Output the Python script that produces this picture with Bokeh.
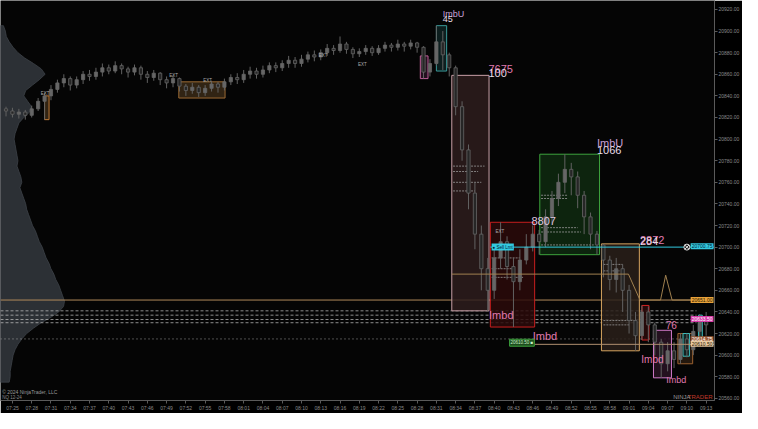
from bokeh.plotting import figure
from bokeh.models import Range1d, FixedTicker, Label, ColumnDataSource, NumeralTickFormatter
from bokeh.core.properties import value
from bokeh.embed import file_html
from bokeh.resources import INLINE

# ---------------- data ----------------
time_labels = ["07:25", "07:28", "07:31", "07:34", "07:37", "07:40", "07:43", "07:46", "07:49",
               "07:52", "07:55", "07:58", "08:01", "08:04", "08:07", "08:10", "08:13", "08:16",
               "08:19", "08:22", "08:25", "08:28", "08:31", "08:34", "08:37", "08:40", "08:43",
               "08:46", "08:49", "08:52", "08:55", "08:58", "09:01", "09:04", "09:07", "09:10",
               "09:13"]
time_ticks = [3 * i for i in range(len(time_labels))]          # minutes after 07:25
price_ticks = [20920, 20900, 20880, 20860, 20840, 20820, 20800, 20780, 20760, 20740,
               20720, 20700, 20680, 20660, 20640, 20620, 20600, 20580, 20560]

bar_time = list(range(-1, 109))
first_open = 20828
bar_close = [20826, 20823, 20825, 20822, 20828, 20835, 20840, 20846, 20852, 20856,
             20850, 20855, 20860, 20858, 20862, 20866, 20863, 20868, 20865, 20862,
             20866, 20860, 20857, 20861, 20855, 20852, 20856, 20849, 20845, 20848,
             20843, 20847, 20851, 20848, 20853, 20857, 20855, 20860, 20863, 20860,
             20864, 20868, 20866, 20870, 20873, 20870, 20874, 20878, 20876, 20880,
             20884, 20882, 20888, 20883, 20879, 20881, 20884, 20880, 20884, 20887,
             20885, 20888, 20886, 20889, 20885, 20862, 20870, 20890, 20878, 20866,
             20830, 20790, 20750, 20712, 20680, 20660, 20690, 20705, 20682, 20668,
             20688, 20700, 20712, 20705, 20728, 20745, 20760, 20772, 20765, 20748,
             20728, 20712, 20702, 20688, 20670, 20680, 20660, 20632, 20618, 20640,
             20628, 20612, 20592, 20604, 20596, 20615, 20605, 20622, 20634, 20628]
bar_high = [20830, 20829, 20828, 20827, 20831, 20838, 20843, 20850, 20855, 20860,
            20858, 20858, 20863, 20864, 20866, 20870, 20869, 20872, 20870, 20867,
            20869, 20868, 20863, 20864, 20862, 20858, 20859, 20857, 20851, 20852,
            20850, 20850, 20854, 20853, 20856, 20860, 20861, 20864, 20867, 20866,
            20868, 20871, 20871, 20873, 20877, 20876, 20878, 20881, 20882, 20883,
            20888, 20887, 20895, 20890, 20885, 20884, 20887, 20886, 20887, 20890,
            20889, 20892, 20890, 20892, 20890, 20886, 20874, 20905, 20900, 20880,
            20868, 20835, 20795, 20760, 20720, 20690, 20700, 20723, 20710, 20690,
            20698, 20712, 20720, 20716, 20735, 20752, 20768, 20786, 20778, 20770,
            20752, 20732, 20715, 20703, 20692, 20690, 20684, 20665, 20640, 20646,
            20645, 20630, 20615, 20612, 20612, 20620, 20620, 20628, 20638, 20640]
bar_low = [20821, 20820, 20819, 20818, 20820, 20826, 20818, 20836, 20843, 20848,
           20845, 20847, 20851, 20854, 20855, 20858, 20860, 20861, 20860, 20857,
           20859, 20855, 20852, 20854, 20850, 20847, 20848, 20844, 20840, 20842,
           20839, 20840, 20844, 20843, 20845, 20850, 20851, 20852, 20856, 20856,
           20857, 20861, 20862, 20863, 20866, 20866, 20867, 20871, 20872, 20873,
           20877, 20878, 20880, 20879, 20875, 20876, 20878, 20877, 20878, 20881,
           20881, 20882, 20881, 20883, 20880, 20856, 20858, 20868, 20864, 20858,
           20822, 20780, 20735, 20698, 20660, 20641, 20652, 20680, 20670, 20626,
           20660, 20684, 20696, 20693, 20700, 20722, 20738, 20750, 20748, 20736,
           20712, 20698, 20693, 20672, 20660, 20658, 20640, 20620, 20604, 20614,
           20612, 20600, 20579, 20585, 20588, 20592, 20598, 20600, 20610, 20618]

profile_prices = [20905, 20900, 20895, 20890, 20885, 20880, 20875, 20870, 20865, 20860,
                  20855, 20850, 20845, 20840, 20835, 20830, 20825, 20820, 20815, 20810,
                  20805, 20800, 20795, 20790, 20785, 20780, 20775, 20770, 20765, 20760,
                  20755, 20750, 20745, 20740, 20735, 20730, 20725, 20720, 20715, 20710,
                  20705, 20700, 20695, 20690, 20685, 20680, 20675, 20670, 20665, 20660,
                  20655, 20650, 20645, 20640, 20635, 20630, 20625, 20620, 20615, 20610,
                  20605, 20600, 20595, 20590, 20585, 20580, 20575]
profile_volumes = [3, 5, 6, 9, 13, 18, 25, 34, 42, 46,
                   40, 33, 26, 24, 28, 32, 30, 24, 19, 17,
                   15, 14, 15, 16, 17, 18, 17, 19, 21, 22,
                   20, 22, 24, 26, 27, 29, 31, 33, 36, 38,
                   40, 43, 45, 47, 50, 52, 55, 57, 60, 62,
                   64, 66, 65, 60, 52, 42, 34, 27, 22, 18,
                   15, 13, 12, 11, 10, 10, 9]

# zones (time in minutes after 07:25, prices)
box_left = [25.9, 5.0, 63.5, 66.0, 68.4, 74.4, 82.1, 91.7, 98.0, 99.8, 103.6, 104.4, 106.8]
box_right = [33.1, 5.7, 64.7, 67.6, 74.2, 81.3, 91.4, 97.6, 99.1, 102.6, 105.9, 105.4, 107.4]
box_top = [20853, 20840, 20877, 20905, 20859, 20723, 20786, 20703, 20646, 20623, 20620, 20620, 20637]
box_bottom = [20838, 20818, 20856, 20863, 20641, 20626, 20693, 20604, 20614, 20579, 20592, 20599, 20610]
box_line = ["#9c6a34", "#c07a35", "#c0609a", "#3a9a9a", "#c8a0a8", "#c81e1e", "#3da33d",
            "#d6a460", "#d42020", "#d07ac8", "#9a6030", "#3cbcbc", "#3cbcbc"]
box_fill = ["#3a2a18", "#3a2a18", "#2a1424", "#0f2525", "#2e1d1d", "#2c0a0a", "#0f2a10",
            "#2a201a", "#2c0a0a", "#2a1424", "#2a1c10", "#0f2525", "#0f2525"]

footprint_t0 = [68.6, 68.6, 68.6, 68.6, 74.6, 74.6, 74.6, 82.3, 82.3, 82.3, 82.3, 82.3, 92.0, 92.0, 92.0, 92.0]
footprint_t1 = [73.5, 72.5, 73.0, 72.0, 79.0, 78.0, 79.5, 86.5, 86.5, 88.0, 88.5, 90.5, 95.0, 94.5, 97.0, 96.0]
footprint_p = [20775, 20770, 20760, 20752, 20690, 20680, 20672, 20748, 20745, 20718, 20714, 20702,
               20684, 20678, 20632, 20628]

full_level = 20651
dashed_levels = [20641, 20637, 20633, 20630]
dotted_level = 20615
cyan_level = 20700
tan_level = 20610

vwap_t = [68.4, 95.9, 97.7, 100.9, 101.7, 102.7, 106.5]
vwap_p = [20675, 20675, 20651, 20651, 20674, 20651, 20651]

tag_prices = [20700.75, 20651.00, 20633.50, 20614.75, 20610.50]
tag_colors = ["#33c9e0", "#e8a23a", "#d63aa8", "#9b5a36", "#e8c9a0"]
tag_text_colors = ["#002030", "#2a1800", "#ffffff", "#ffffff", "#2a1800"]

ext_t = [4.4, 24.4, 29.7, 47.7, 53.8, 75.2]
ext_p = [20842, 20859, 20854, 20877, 20869, 20714]

X0, X1 = -1.86, 109.3

# ---------------- figure ----------------
p = figure(width=742, height=413, x_range=Range1d(X0, X1), y_range=Range1d(20558, 20928.3),
           y_axis_location="right", output_backend="svg", toolbar_location=None,
           background_fill_color="#050505", border_fill_color="#000000", outline_line_color=None,
           min_border_left=0, min_border_top=0, min_border_right=0, min_border_bottom=0)
p.grid.visible = False
p.extra_x_ranges = {"vol": Range1d(0, 736)}

for ax in (p.xaxis[0], p.yaxis[0]):
    ax.axis_line_color = "#5a5a5a"
    ax.major_tick_line_color = "#5a5a5a"
    ax.major_tick_out = 3
    ax.major_tick_in = 0
    ax.minor_tick_line_color = None
    ax.major_label_text_font_size = "5px"
    ax.major_label_text_color = "#8a8a8a"
    ax.major_label_text_font = "Liberation Sans"
    ax.major_label_standoff = 1
    ax.axis_label_standoff = 0

p.xaxis[0].ticker = FixedTicker(ticks=time_ticks)
p.xaxis[0].major_label_overrides = {t: l for t, l in zip(time_ticks, time_labels)}
p.yaxis[0].ticker = FixedTicker(ticks=price_ticks)
p.yaxis[0].formatter = NumeralTickFormatter(format="0.00")

# volume profile (outline through the level volumes)
p.patch(x=[0] + profile_volumes + [0],
        y=[profile_prices[0]] + profile_prices + [profile_prices[-1]],
        x_range_name="vol", fill_color="#2c3035", line_color="#3d4249", line_width=0.8)

# horizontal levels
p.segment(x0=X0, x1=106.5, y0=full_level, y1=full_level, line_color="#b08a5a", line_width=1)
for lv in dashed_levels:
    p.segment(x0=X0, x1=106.5, y0=lv, y1=lv, line_color="#c8c8c8", line_alpha=0.7,
              line_width=1, line_dash="3 2")
p.segment(x0=X0, x1=106.5, y0=dotted_level, y1=dotted_level, line_color="#bbbbbb",
          line_alpha=0.8, line_width=1, line_dash="1 3")

# zones
p.quad(source=ColumnDataSource(dict(left=box_left, right=box_right, top=box_top, bottom=box_bottom,
                                    lc=box_line, fc=box_fill)),
       left="left", right="right", top="top", bottom="bottom",
       fill_color="fc", fill_alpha=0.85, line_color="lc", line_width=1)

p.segment(x0=footprint_t0, x1=footprint_t1, y0=footprint_p, y1=footprint_p,
          line_color="#9a9a9a", line_alpha=0.8, line_width=1, line_dash="2 1")

# candles
bar_open = [first_open] + bar_close[:-1]
up = [c >= o for o, c in zip(bar_open, bar_close)]
csrc = ColumnDataSource(dict(t=bar_time, o=bar_open, c=bar_close, h=bar_high, l=bar_low,
                             top=[max(o, c) for o, c in zip(bar_open, bar_close)],
                             bot=[min(o, c) for o, c in zip(bar_open, bar_close)],
                             fc=["#666666" if u else "#262626" for u in up]))
p.segment(x0="t", x1="t", y0="h", y1="l", source=csrc, line_color="#626262", line_width=1)
p.vbar(x="t", top="top", bottom="bot", width=0.5, source=csrc, fill_color="fc",
       line_color="#666666", line_width=0.8)

# vwap-like line, cyan order line, tan line
p.line(vwap_t, vwap_p, line_color="#a08050", line_width=1)
p.segment(x0=74.4, x1=X1, y0=cyan_level, y1=cyan_level, line_color="#33c9e0", line_width=1)
p.segment(x0=81.3, x1=X1, y0=tan_level, y1=tan_level, line_color="#b09070", line_width=1)
p.scatter([105.0], [cyan_level], marker="circle_x", size=6, line_color="#dddddd",
          fill_color="#222222")

# small order tags
p.add_layout(Label(x=74.6, y=cyan_level, text="● Sell Lmt", text_font_size="4.5px",
                   text_color="#002030", background_fill_color="#33c9e0", text_baseline="middle",
                   text_font="Liberation Sans", padding=1))
p.add_layout(Label(x=77.4, y=tan_level + 1.5, text="20610.50 ■", text_font_size="4.5px",
                   text_color="#c8f0c8", background_fill_color="#1e4d1e", border_line_color="#3da33d",
                   text_baseline="middle", text_font="Liberation Sans", padding=1))

# EXT marks
p.text(x=ext_t, y=ext_p, text=["EXT"] * len(ext_t), text_font=value("Liberation Sans"),
       text_font_size="4.5px", text_color="#aaaaaa", text_baseline="middle")

# zone labels
pink = "#e07ab0"
white = "#e8dce8"
lab_font = value("Liberation Sans")
p.text(x=[67.0], y=[20916], text=["ImbU"], text_color="#c8a0d8", text_font=lab_font, text_font_size="9px", text_baseline="middle")
p.text(x=[67.0], y=[20911], text=["45"], text_color=white, text_font=lab_font, text_font_size="9px", text_baseline="middle")
p.text(x=[74.1], y=[20865], text=["7675"], text_color=pink, text_font=lab_font, text_font_size="11px", text_baseline="middle")
p.text(x=[74.1], y=[20861], text=["100"], text_color=white, text_font=lab_font, text_font_size="11px", text_baseline="middle")
p.text(x=[74.2], y=[20637], text=["Imbd"], text_color=pink, text_font=lab_font, text_font_size="11px", text_baseline="middle")
p.text(x=[80.8], y=[20724], text=["8807"], text_color="#e0c8e0", text_font=lab_font, text_font_size="11px", text_baseline="middle")
p.text(x=[91.0], y=[20796], text=["ImbU"], text_color="#c8a0d8", text_font=lab_font, text_font_size="11px", text_baseline="middle")
p.text(x=[91.0], y=[20790], text=["1066"], text_color=white, text_font=lab_font, text_font_size="11px", text_baseline="middle")
p.text(x=[97.7], y=[20707], text=["2872"], text_color=pink, text_font=lab_font, text_font_size="11px", text_baseline="middle")
p.text(x=[97.7], y=[20706], text=["284"], text_color=white, text_font=lab_font, text_font_size="11px", text_baseline="middle")
p.text(x=[81.0], y=[20618], text=["Imbd"], text_color=pink, text_font=lab_font, text_font_size="11px", text_baseline="middle")
p.text(x=[101.7], y=[20628], text=["76"], text_color=pink, text_font=lab_font, text_font_size="10px", text_baseline="middle")
p.text(x=[97.9], y=[20596], text=["Imbd"], text_color=pink, text_font=lab_font, text_font_size="10px", text_baseline="middle")
p.text(x=[101.8], y=[20577], text=["Imbd"], text_color=pink, text_font=lab_font, text_font_size="9px", text_baseline="middle")

# copyright and instrument
p.text(x=[-1.6], y=[20566], text=["© 2024 NinjaTrader, LLC"], text_color="#9a9a9a",
       text_font=lab_font, text_font_size="5px", text_baseline="middle")
p.text(x=[-1.6], y=[20561], text=["NQ 12-24"], text_color="#8a8a8a",
       text_font=lab_font, text_font_size="4.5px", text_baseline="middle")

# price tags at the right edge
for pr, bg, tc in zip(tag_prices, tag_colors, tag_text_colors):
    p.add_layout(Label(x=X1, y=pr, x_offset=-1, text=f"{pr:.2f}", text_font_size="5px",
                       text_color=tc, background_fill_color=bg, text_baseline="middle",
                       text_align="right", text_font="Liberation Sans", padding=1))

# logo
p.add_layout(Label(x=X1, y=20561, x_offset=-2, text="TRADER", text_font_size="6px",
                   text_color="#c0392b", text_baseline="middle", text_align="right",
                   text_font="Liberation Sans"))
p.add_layout(Label(x=X1, y=20561, x_offset=-24, text="NINJA", text_font_size="6px",
                   text_color="#9a9a9a", text_baseline="middle", text_align="right",
                   text_font="Liberation Sans"))

open("out.html", "w").write(file_html(p, INLINE))
